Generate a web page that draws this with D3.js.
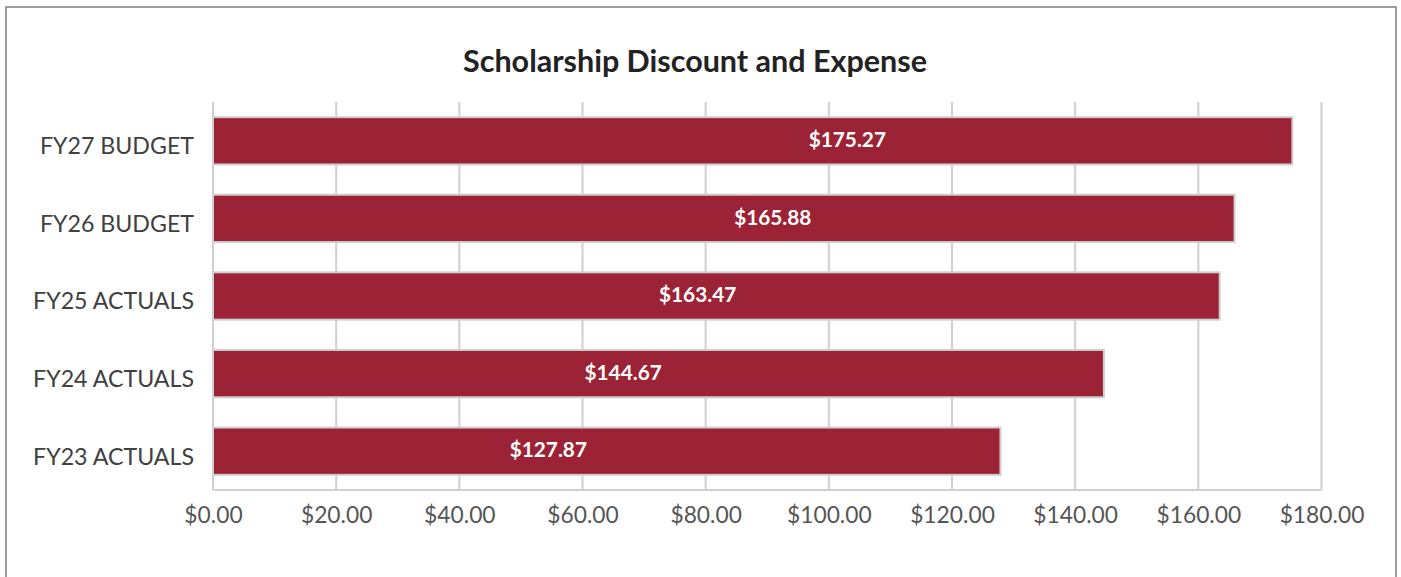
<!DOCTYPE html>
<html>
<head>
<meta charset="utf-8">
<script src="https://cdn.jsdelivr.net/npm/d3@7"></script>
<style>
  body { margin: 0; background: #fff; }
  svg { display: block; font-family: Lato, "Open Sans", sans-serif; }
</style>
</head>
<body>
<div class="chart"></div>
<script>
// data
const categories = ["FY27 BUDGET", "FY26 BUDGET", "FY25 ACTUALS", "FY24 ACTUALS", "FY23 ACTUALS"];
const values = [175.27, 165.88, 163.47, 144.67, 127.87];
// where the value label sits along the bar (in $)
const labelAt = [103.0, 90.9, 78.7, 66.6, 54.45];
const xTicks = [0, 20, 40, 60, 80, 100, 120, 140, 160, 180];
const title = "Scholarship Discount and Expense";

const W = 1401, H = 577;
const margin = {top: 102, right: 79, bottom: 87, left: 213};
const w = 1321.5 - margin.left;
const h = 490 - margin.top;

const svg = d3.select(".chart")
    .append("svg")
    .attr("width", W)
    .attr("height", H);

// outer frame
svg.append("rect")
    .attr("x", 6).attr("y", 7)
    .attr("width", 1390).attr("height", 600)
    .attr("fill", "#fff")
    .attr("stroke", "#7f7f7f")
    .attr("stroke-width", 1.5);

svg.append("text")
    .attr("x", 695).attr("y", 72)
    .attr("text-anchor", "middle")
    .attr("font-size", "30.5px")
    .attr("font-weight", "bold")
    .attr("fill", "#222")
    .text(title);

const g = svg.append("g")
    .attr("transform", "translate(" + margin.left + "," + margin.top + ")");

const xScale = d3.scaleLinear().domain([0, 180]).range([0, w]);
const yScale = d3.scaleBand()
    .domain(categories)
    .range([0, h])
    .paddingInner(0.39)
    .paddingOuter(0.195);

// gridlines
g.selectAll("line.grid")
    .data(xTicks)
    .join("line")
    .attr("class", "grid")
    .attr("x1", d => xScale(d)).attr("x2", d => xScale(d))
    .attr("y1", 0).attr("y2", h)
    .attr("stroke", "#d0d0d0")
    .attr("stroke-width", 2);

// bottom axis line
g.append("line")
    .attr("x1", 0).attr("x2", w)
    .attr("y1", h).attr("y2", h)
    .attr("stroke", "#d0d0d0")
    .attr("stroke-width", 2);

// x axis labels
const xAxis = g.append("g")
    .attr("transform", "translate(0," + h + ")")
    .call(d3.axisBottom(xScale).tickValues(xTicks).tickSize(0).tickPadding(17)
        .tickFormat(d => "$" + d3.format(",.2f")(d)));
xAxis.select(".domain").remove();
xAxis.selectAll("text")
    .attr("font-family", "Lato")
    .attr("font-size", "22.8px")
    .attr("fill", "#555");

// y axis labels
const yAxis = g.append("g")
    .call(d3.axisLeft(yScale).tickSize(0).tickPadding(19));
yAxis.select(".domain").remove();
yAxis.selectAll("text")
    .attr("font-family", "Lato")
    .attr("font-size", "23.2px")
    .attr("dy", "0.58em")
    .attr("fill", "#404040");

// bars
const rows = categories.map((c, i) => ({cat: c, value: values[i], at: labelAt[i]}));

g.selectAll("rect.bar")
    .data(rows)
    .join("rect")
    .attr("class", "bar")
    .attr("x", xScale(0))
    .attr("y", d => yScale(d.cat))
    .attr("width", d => xScale(d.value))
    .attr("height", yScale.bandwidth())
    .attr("fill", "#9b2335")
    .attr("stroke", "#cfcfcf")
    .attr("stroke-width", 2);

// value labels
g.selectAll("text.label")
    .data(rows)
    .join("text")
    .attr("class", "label")
    .attr("x", d => xScale(d.at))
    .attr("y", d => yScale(d.cat) + yScale.bandwidth() / 2)
    .attr("dy", "0.3em")
    .attr("text-anchor", "middle")
    .attr("font-size", "20.8px")
    .attr("font-weight", "bold")
    .attr("fill", "#fff")
    .text(d => "$" + d3.format(",.2f")(d.value));
</script>
</body>
</html>
